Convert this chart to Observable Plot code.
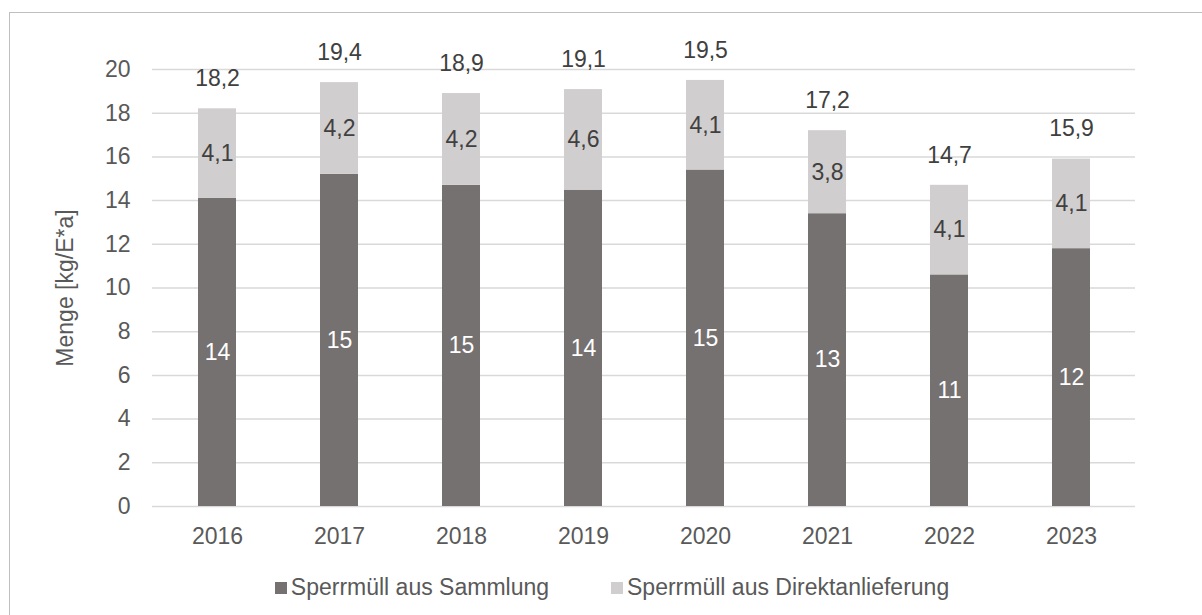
<!DOCTYPE html>
<html>
<head>
<meta charset="utf-8">
<script src="https://cdn.jsdelivr.net/npm/d3@7"></script>
<script src="https://cdn.jsdelivr.net/npm/@observablehq/plot@0.6"></script>
<style>
  html, body { margin: 0; padding: 0; background: #fff; }
  body { width: 1202px; height: 615px; overflow: hidden; position: relative; font-family: "Liberation Sans", Arial, sans-serif; }
  #frame { position: absolute; left: 9px; top: 12px; width: 1400px; height: 800px; border: 1px solid #bfbfbf; box-sizing: border-box; pointer-events: none; }
  #chart { position: absolute; left: 0; top: 0; }
  #legend { position: absolute; left: 0; top: 574px; width: 1224px; display: flex; justify-content: center; gap: 62px; font-size: 23px; color: #595959; }
  .item { display: flex; align-items: center; }
  .sw { width: 12px; height: 12px; margin-right: 4px; }
</style>
</head>
<body>
<div id="frame"></div>
<div id="chart"></div>
<div id="legend"></div>
<script>
const years = ["2016", "2017", "2018", "2019", "2020", "2021", "2022", "2023"];
const sammlung = [14.1, 15.2, 14.7, 14.48, 15.4, 13.4, 10.6, 11.8];
const direkt = [4.1, 4.2, 4.2, 4.6, 4.1, 3.8, 4.1, 4.1];
const totals = [18.2, 19.4, 18.9, 19.1, 19.5, 17.2, 14.7, 15.9];
const seriesNames = ["Sperrmüll aus Sammlung", "Sperrmüll aus Direktanlieferung"];
const seriesColors = ["#767171", "#d0cece"];
const yTicks = [0, 2, 4, 6, 8, 10, 12, 14, 16, 18, 20];

const rows = years.map((y, i) => ({year: y, sammlung: sammlung[i], direkt: direkt[i], total: totals[i]}));
const long = [];
years.forEach((y, i) => {
  long.push({year: y, series: seriesNames[0], value: sammlung[i]});
  long.push({year: y, series: seriesNames[1], value: direkt[i]});
});
const fmt1 = v => v.toFixed(1).replace(".", ",");
const fmt0 = v => String(Math.round(v));

const chart = Plot.plot({
  width: 1202,
  height: 560,
  marginLeft: 152,
  marginRight: 67,
  marginTop: 69,
  marginBottom: 54,
  style: {fontFamily: "'Liberation Sans', Arial, sans-serif", fontSize: "23px", color: "#595959", background: "transparent"},
  x: {domain: years, paddingInner: 0.69, paddingOuter: 0.345, label: null},
  y: {domain: [0, 20], label: null},
  color: {domain: seriesNames, range: seriesColors},
  marks: [
    Plot.ruleY(yTicks, {stroke: "#d9d9d9", strokeWidth: 1.5}),
    Plot.barY(long, {x: "year", y: "value", fill: "series", order: seriesNames}),
    Plot.axisY({ticks: yTicks, tickSize: 0, tickPadding: 22, label: "Menge [kg/E*a]", labelAnchor: "center", labelArrow: "none", labelOffset: 96, fill: "#595959", fontSize: 23}),
    Plot.axisX({tickSize: 0, tickPadding: 21, label: null, fill: "#595959", fontSize: 23}),
    Plot.text(rows, {x: "year", y: d => d.sammlung / 2, text: d => fmt0(d.sammlung), fill: "white", fontSize: 23}),
    Plot.text(rows, {x: "year", y: d => d.sammlung + d.direkt / 2, text: d => fmt1(d.direkt), fill: "#404040", fontSize: 23}),
    Plot.text(rows, {x: "year", y: "total", text: d => fmt1(d.total), dy: -30, fill: "#404040", fontSize: 23})
  ]
});
document.getElementById("chart").appendChild(chart);

const legend = document.getElementById("legend");
seriesNames.forEach((name, i) => {
  const item = document.createElement("div");
  item.className = "item";
  const sw = document.createElement("span");
  sw.className = "sw";
  sw.style.background = seriesColors[i];
  const label = document.createElement("span");
  label.textContent = name;
  item.appendChild(sw);
  item.appendChild(label);
  legend.appendChild(item);
});
</script>
</body>
</html>
